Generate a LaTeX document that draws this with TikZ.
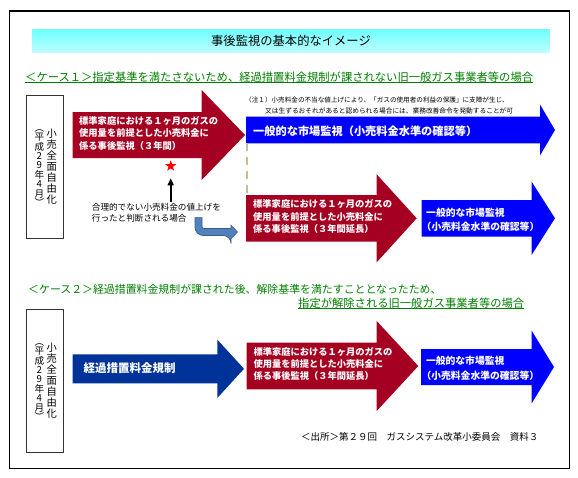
\documentclass[tikz,border=0pt]{standalone}
\usepackage{fontspec}
\setmainfont{Noto Sans CJK JP}
\usetikzlibrary{shapes.geometric,arrows.meta}
\definecolor{arrred}{RGB}{165,0,33}
\definecolor{arrblue}{RGB}{0,0,255}
\definecolor{arrnavy}{RGB}{0,51,153}
\definecolor{headgreen}{RGB}{0,128,0}
\definecolor{dashkhaki}{RGB}{196,189,151}
\definecolor{bentfill}{RGB}{79,129,189}
\definecolor{bentline}{RGB}{56,93,138}
\definecolor{bandcyan}{RGB}{110,255,255}
\definecolor{bandlow}{RGB}{190,255,255}
\newcommand{\blockarrow}[8]{%
  \fill[#2] (#3,#6-#7) -- (#4,#6-#7) -- (#4,#6-#8) -- (#5,#6) -- (#4,#6+#8) -- (#4,#6+#7) -- (#3,#6+#7) -- cycle;
  \coordinate (#1) at (#3,#6);}
\newcommand{\redtext}[3]{\resizebox{139pt}{!}{\begin{tabular}{@{}l@{}}#1\\#2\\#3\end{tabular}}}
\tikzset{
  arrtext/.style={anchor=west, inner sep=0, align=left, text=white, font=\bfseries\fontsize{#1}{12.5}\selectfont},
  heading/.style={anchor=west, inner sep=0, text=headgreen, font=\fontsize{11.3}{13}\selectfont},
  ulined/.style={headgreen, line width=0.9pt},
  datebox/.style={draw=black!80, line width=1.1pt, minimum width=37.3pt, inner sep=0},
  vcol/.style={inner sep=0, align=center, font=\fontsize{10.3}{11}\selectfont},
  vcolb/.style={inner sep=0, align=center, font=\fontsize{9.6}{9.4}\selectfont},
  plain/.style={anchor=west, inner sep=0, align=left}
}
\begin{document}
\begin{tikzpicture}[x=1pt,y=-1pt]
\useasboundingbox (0,0) rectangle (578,477);
\fill[white] (0,0) rectangle (578,477);
% frame
\draw[line width=1.2pt] (9.5,11) rectangle (569.5,468.5);
% title band
\shade[top color=bandcyan, middle color=white, bottom color=bandlow] (32.3,29.3) rectangle (549.7,52.3);
\node[inner sep=0, font=\fontsize{12.3}{14}\selectfont] (title) at (291,41.2) {事後監視の基本的なイメージ};
% case 1 heading
\node[heading] (h1) at (25,76.7) {＜ケース１＞指定基準を満たさないため、経過措置料金規制が課されない旧一般ガス事業者等の場合};
\draw[ulined] (h1.south west) -- (h1.south east);
% date box 1
\node[datebox, minimum height=143.3pt] (box1) at (44.7,167) {};
\node[vcol] (v1a) at (51.7,166.5) {小\\売\\全\\面\\自\\由\\化};
\node[vcolb] (v1b) at (39.3,168) {︵\\平\\成\\2\\9\\年\\4\\月\\︶};
% note
\node[plain, font=\fontsize{6.6}{8}\selectfont] (note1) at (245,100) {（注１）小売料金の不当な値上げにより、「ガスの使用者の利益の保護」に支障が生じ、};
\node[plain, font=\fontsize{6.7}{8}\selectfont] (note2) at (265,110.5) {又は生ずるおそれがあると認められる場合には、業務改善命令を発動することが可};
% arrows case 1
\blockarrow{r1}{arrred}{72.7}{201.7}{245}{135}{23}{45}
\node[arrtext=9.3] (t1) at (79,134.2) {\redtext{標準家庭における１ヶ月のガスの}{使用量を前提とした小売料金に}{係る事後監視（３年間）}};
\blockarrow{b1}{arrblue}{246}{540}{555}{130}{13.3}{25.5}
\node[arrtext=11.2] (t2) at (253,131.2) {一般的な市場監視（小売料金水準の確認等）};
\coordinate (dtop) at (246.7,143.3);
\coordinate (dbot) at (246.7,196);
\draw[dashkhaki, line width=2.4pt, dash pattern=on 8pt off 6pt] (dtop) -- (dbot);
\blockarrow{r2}{arrred}{246}{376.7}{416.7}{218.3}{23.3}{44}
\node[arrtext=9.3] (t3) at (253,217.6) {\redtext{標準家庭における１ヶ月のガスの}{使用量を前提とした小売料金に}{係る事後監視（３年間延長）}};
\blockarrow{b2}{arrblue}{421.7}{531.7}{555}{218.3}{18.3}{36.5}
\node[arrtext=9.8, font=\bfseries\fontsize{9.8}{13.7}\selectfont] (t4) at (421.5,219.8) {\hspace{4.5pt}一般的な市場監視\\（小売料金水準の確認等）};
% star and annotation
\node[star, star points=5, star point ratio=2.4, fill=red, minimum size=11.5pt, inner sep=0] (star) at (170.7,166) {};
\node[plain, anchor=north west, font=\fontsize{8.6}{11}\selectfont] (ann) at (91.7,203) {合理的でない小売料金の値上げを\\行ったと判断される場合};
\draw[line width=1.8pt, -{Triangle[width=6pt,length=7pt]}] ([yshift=1.3pt]ann.north -| star.center) -- ([yshift=-12.3pt]star.center);
% bent arrow
\filldraw[fill=bentfill, draw=bentline, line width=0.6pt] (195,217.7) [rounded corners=8pt] -- (195,235.5) -- (231,235.5) [sharp corners] -- (231,238.8) -- (237.5,232) -- (231,225.2) -- (231,228.5) [rounded corners=2pt] -- (202,228.5) [sharp corners] -- (202,217.7) -- cycle;
% case 2 heading
\node[heading, font=\fontsize{10.9}{13}\selectfont] (h2a) at (28,289) {＜ケース２＞経過措置料金規制が課された後、解除基準を満たすこととなったため、};
\node[heading] (h2b) at (298,303.3) {指定が解除される旧一般ガス事業者等の場合};
\draw[ulined] (h2b.south west) -- (h2b.south east);
% date box 2
\node[datebox, minimum height=143.7pt] (box2) at (44.7,381) {};
\node[vcol] (v2a) at (51.7,380.5) {小\\売\\全\\面\\自\\由\\化};
\node[vcolb] (v2b) at (39.3,382) {︵\\平\\成\\2\\9\\年\\4\\月\\︶};
% arrows case 2
\blockarrow{d3}{arrnavy}{72.7}{217.3}{244}{368.8}{14.5}{29.2}
\node[arrtext=11.5] (t5) at (83.3,368.5) {経過措置料金規制};
\blockarrow{r3}{arrred}{246.7}{376.7}{418.3}{366}{23.3}{45}
\node[arrtext=9.3] (t6) at (253.3,365) {\redtext{標準家庭における１ヶ月のガスの}{使用量を前提とした小売料金に}{係る事後監視（３年間延長）}};
\blockarrow{b3}{arrblue}{421}{531.7}{554}{367}{18}{36.3}
\node[arrtext=9.8, font=\bfseries\fontsize{9.8}{14.5}\selectfont] (t7) at (421.3,368.3) {\hspace{4.5pt}一般的な市場監視\\（小売料金水準の確認等）};
% source
\node[plain, font=\fontsize{9.5}{11}\selectfont] (src) at (301,436.7) {＜出所＞第２９回　ガスシステム改革小委員会　資料３};
\end{tikzpicture}
\end{document}
